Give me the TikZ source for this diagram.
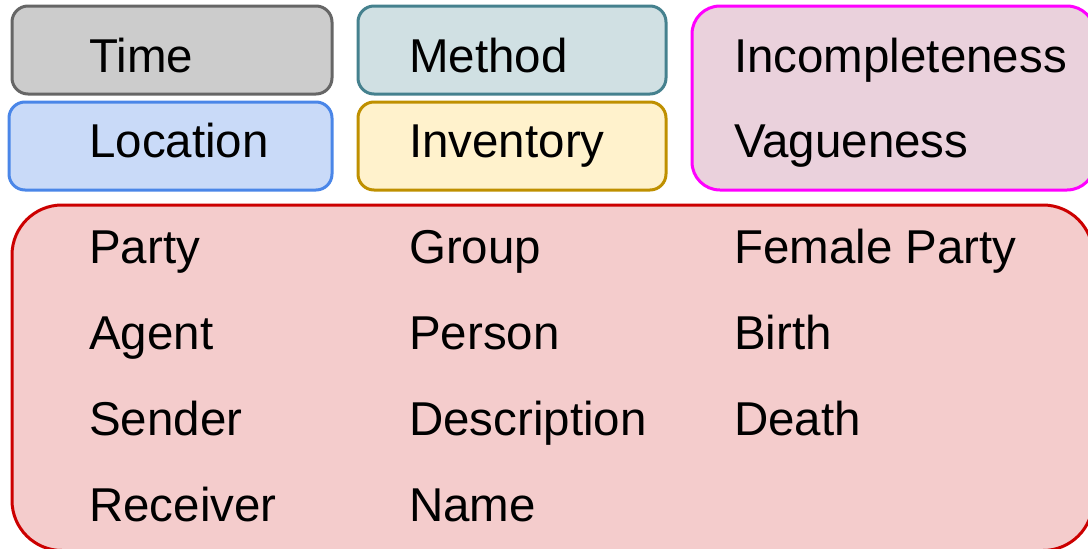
\documentclass[tikz,border=0pt]{standalone}
\usepackage{fontspec}
\setmainfont{Liberation Sans}
\definecolor{tfill}{HTML}{CCCCCC}\definecolor{tline}{HTML}{666666}
\definecolor{lfill}{HTML}{C9DAF8}\definecolor{lline}{HTML}{4A86E8}
\definecolor{mfill}{HTML}{D0E0E3}\definecolor{mline}{HTML}{45818E}
\definecolor{ifill}{HTML}{FFF2CC}\definecolor{iline}{HTML}{BF9000}
\definecolor{pfill}{HTML}{EAD1DC}\definecolor{pline}{HTML}{FF00FF}
\definecolor{rfill}{HTML}{F4CCCC}\definecolor{rline}{HTML}{CC0000}
\begin{document}
\begin{tikzpicture}[x=1pt,y=-1pt,
  boxstyle/.style={line width=3pt,rounded corners=16pt},
  lbl/.style={anchor=base west,inner sep=0pt,font=\fontsize{47.5}{57}\selectfont}]
\useasboundingbox (0,0) rectangle (1088,549);
\draw[boxstyle,draw=tline,fill=tfill] (12,6) rectangle (332,94);
\draw[boxstyle,draw=lline,fill=lfill] (9,102) rectangle (332,190);
\draw[boxstyle,draw=mline,fill=mfill] (358,6) rectangle (666,94);
\draw[boxstyle,draw=iline,fill=ifill] (358,102) rectangle (666,190);
\draw[boxstyle,rounded corners=28pt,draw=pline,fill=pfill] (692,6) rectangle (1095,190);
\draw[boxstyle,rounded corners=50pt,draw=rline,fill=rfill] (12,205) rectangle (1093,550.5);
\node[lbl] (time) at (89,72) {Time};
\node[lbl] (loc) at (89,157) {Location};
\node[lbl] (meth) at (409,72) {Method};
\node[lbl] (inv) at (409,157) {Inventory};
\node[lbl] (inc) at (734,72) {Incompleteness};
\node[lbl] (vag) at (734,157) {Vagueness};
\node[lbl] (party) at (89,263) {Party};
\node[lbl] (agent) at (89,349) {Agent};
\node[lbl] (sender) at (89,435) {Sender};
\node[lbl] (recv) at (89,521) {Receiver};
\node[lbl] (group) at (409,263) {Group};
\node[lbl] (person) at (409,349) {Person};
\node[lbl] (desc) at (409,435) {Description};
\node[lbl] (name) at (409,521) {Name};
\node[lbl] (fem) at (734,263) {Female Party};
\node[lbl] (birth) at (734,349) {Birth};
\node[lbl] (death) at (734,435) {Death};
\end{tikzpicture}
\end{document}
